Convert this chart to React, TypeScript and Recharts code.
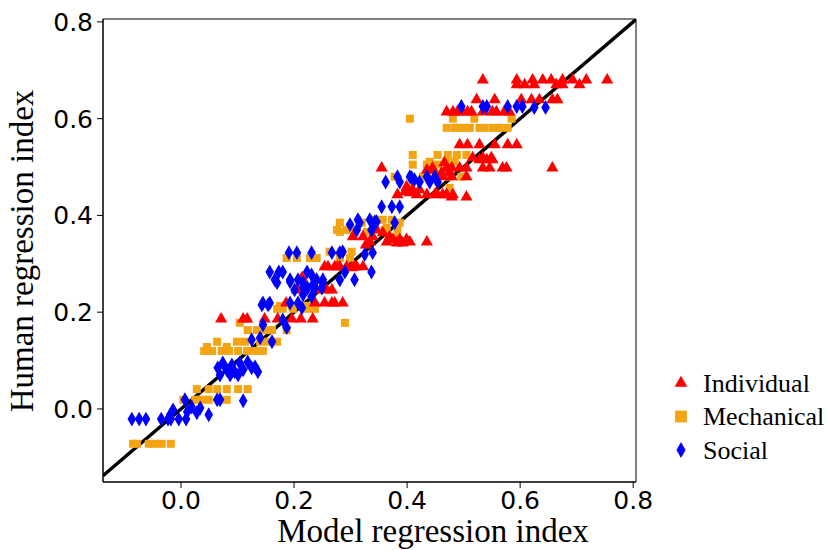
import React from 'react';
import {
  ScatterChart,
  Scatter,
  XAxis,
  YAxis,
  ZAxis,
  ReferenceArea,
  Legend,
  Symbols,
} from 'recharts';

type P = { x: number; y: number };

const xTicks = [0, 0.2, 0.4, 0.6, 0.8];
const yTicks = [0, 0.2, 0.4, 0.6, 0.8];
const xDomain: [number, number] = [-0.138, 0.805];
const yDomain: [number, number] = [-0.151, 0.806];
const identityLine: P[] = [
  { x: -0.138, y: -0.138 },
  { x: 0.805, y: 0.805 },
];
const xTitle = 'Model regression index';
const yTitle = 'Human regression index';
const seriesNames = ['Individual', 'Mechanical', 'Social'];
const seriesColors = ['#ff0000', '#f4a412', '#0000ff'];
const seriesShapes = ['triangle', 'square', 'diamond'] as const;

const individual: P[] = [
  { x: 0.534, y: 0.68 }, { x: 0.594, y: 0.68 }, { x: 0.622, y: 0.68 }, { x: 0.64, y: 0.68 }, { x: 0.655, y: 0.68 },
  { x: 0.675, y: 0.68 }, { x: 0.693, y: 0.68 }, { x: 0.717, y: 0.68 }, { x: 0.754, y: 0.68 },
  { x: 0.594, y: 0.67 }, { x: 0.608, y: 0.67 }, { x: 0.625, y: 0.67 }, { x: 0.664, y: 0.67 }, { x: 0.675, y: 0.67 }, { x: 0.705, y: 0.67 },
  { x: 0.523, y: 0.639 }, { x: 0.555, y: 0.639 }, { x: 0.602, y: 0.639 }, { x: 0.62, y: 0.639 }, { x: 0.634, y: 0.639 },
  { x: 0.657, y: 0.639 }, { x: 0.666, y: 0.639 },
  { x: 0.47, y: 0.614 }, { x: 0.481, y: 0.614 }, { x: 0.489, y: 0.614 }, { x: 0.498, y: 0.614 }, { x: 0.507, y: 0.614 },
  { x: 0.514, y: 0.614 }, { x: 0.534, y: 0.614 }, { x: 0.551, y: 0.614 }, { x: 0.558, y: 0.614 }, { x: 0.572, y: 0.614 }, { x: 0.581, y: 0.614 },
  { x: 0.493, y: 0.546 }, { x: 0.507, y: 0.546 }, { x: 0.528, y: 0.546 }, { x: 0.555, y: 0.546 }, { x: 0.578, y: 0.546 }, { x: 0.594, y: 0.546 },
  { x: 0.516, y: 0.519 }, { x: 0.534, y: 0.519 }, { x: 0.549, y: 0.519 }, { x: 0.528, y: 0.515 }, { x: 0.541, y: 0.515 }, { x: 0.551, y: 0.515 },
  { x: 0.355, y: 0.498 }, { x: 0.445, y: 0.498 }, { x: 0.47, y: 0.498 }, { x: 0.479, y: 0.498 }, { x: 0.493, y: 0.498 },
  { x: 0.505, y: 0.498 }, { x: 0.534, y: 0.498 }, { x: 0.546, y: 0.498 }, { x: 0.569, y: 0.498 }, { x: 0.576, y: 0.498 }, { x: 0.657, y: 0.498 },
  { x: 0.463, y: 0.48 }, { x: 0.479, y: 0.48 }, { x: 0.505, y: 0.48 }, { x: 0.435, y: 0.494 }, { x: 0.445, y: 0.494 },
  { x: 0.461, y: 0.488 }, { x: 0.475, y: 0.488 },
  { x: 0.383, y: 0.443 }, { x: 0.396, y: 0.449 }, { x: 0.399, y: 0.459 }, { x: 0.405, y: 0.447 }, { x: 0.41, y: 0.453 },
  { x: 0.417, y: 0.443 }, { x: 0.422, y: 0.453 }, { x: 0.435, y: 0.443 }, { x: 0.449, y: 0.443 }, { x: 0.452, y: 0.447 },
  { x: 0.463, y: 0.443 }, { x: 0.47, y: 0.443 }, { x: 0.479, y: 0.438 }, { x: 0.481, y: 0.443 }, { x: 0.505, y: 0.438 },
  { x: 0.304, y: 0.356 }, { x: 0.322, y: 0.356 }, { x: 0.334, y: 0.345 }, { x: 0.346, y: 0.37 }, { x: 0.357, y: 0.364 },
  { x: 0.364, y: 0.345 }, { x: 0.369, y: 0.356 }, { x: 0.375, y: 0.35 }, { x: 0.382, y: 0.343 }, { x: 0.387, y: 0.35 },
  { x: 0.392, y: 0.343 }, { x: 0.399, y: 0.35 }, { x: 0.405, y: 0.345 }, { x: 0.435, y: 0.345 }, { x: 0.339, y: 0.356 }, { x: 0.327, y: 0.339 },
  { x: 0.254, y: 0.294 }, { x: 0.26, y: 0.294 }, { x: 0.272, y: 0.294 }, { x: 0.277, y: 0.294 }, { x: 0.281, y: 0.294 },
  { x: 0.293, y: 0.294 }, { x: 0.302, y: 0.292 }, { x: 0.307, y: 0.294 }, { x: 0.311, y: 0.294 }, { x: 0.322, y: 0.294 },
  { x: 0.214, y: 0.271 },
  { x: 0.205, y: 0.246 }, { x: 0.24, y: 0.246 }, { x: 0.258, y: 0.246 }, { x: 0.267, y: 0.246 },
  { x: 0.186, y: 0.219 }, { x: 0.237, y: 0.219 }, { x: 0.254, y: 0.219 }, { x: 0.267, y: 0.219 }, { x: 0.272, y: 0.219 }, { x: 0.286, y: 0.219 },
  { x: 0.071, y: 0.186 }, { x: 0.11, y: 0.186 }, { x: 0.117, y: 0.186 }, { x: 0.148, y: 0.186 }, { x: 0.171, y: 0.186 },
  { x: 0.196, y: 0.186 }, { x: 0.212, y: 0.186 }, { x: 0.233, y: 0.186 },
  { x: 0.466, y: 0.509 },
];

const mechanical: P[] = [
  { x: -0.085, y: -0.072 }, { x: -0.078, y: -0.072 }, { x: -0.057, y: -0.072 }, { x: -0.046, y: -0.072 }, { x: -0.034, y: -0.072 }, { x: -0.018, y: -0.072 },
  { x: 0.004, y: 0.019 }, { x: 0.025, y: 0.019 }, { x: 0.037, y: 0.019 }, { x: 0.049, y: 0.019 }, { x: 0.067, y: 0.019 }, { x: 0.081, y: 0.019 },
  { x: 0.028, y: 0.041 }, { x: 0.049, y: 0.041 }, { x: 0.064, y: 0.041 }, { x: 0.081, y: 0.041 }, { x: 0.101, y: 0.041 }, { x: 0.118, y: 0.041 },
  { x: 0.041, y: 0.12 }, { x: 0.055, y: 0.12 }, { x: 0.072, y: 0.12 }, { x: 0.085, y: 0.12 }, { x: 0.101, y: 0.12 },
  { x: 0.117, y: 0.12 }, { x: 0.131, y: 0.12 }, { x: 0.145, y: 0.12 },
  { x: 0.046, y: 0.128 }, { x: 0.081, y: 0.128 },
  { x: 0.064, y: 0.139 }, { x: 0.099, y: 0.139 }, { x: 0.113, y: 0.139 }, { x: 0.14, y: 0.139 }, { x: 0.154, y: 0.139 }, { x: 0.17, y: 0.139 },
  { x: 0.118, y: 0.163 }, { x: 0.134, y: 0.163 }, { x: 0.148, y: 0.163 }, { x: 0.161, y: 0.163 }, { x: 0.187, y: 0.163 },
  { x: 0.104, y: 0.178 }, { x: 0.29, y: 0.178 },
  { x: 0.17, y: 0.207 }, { x: 0.18, y: 0.207 }, { x: 0.198, y: 0.207 }, { x: 0.223, y: 0.207 }, { x: 0.237, y: 0.207 },
  { x: 0.175, y: 0.213 }, { x: 0.196, y: 0.213 }, { x: 0.223, y: 0.213 }, { x: 0.233, y: 0.213 },
  { x: 0.187, y: 0.312 }, { x: 0.205, y: 0.312 }, { x: 0.228, y: 0.312 }, { x: 0.24, y: 0.312 }, { x: 0.281, y: 0.312 }, { x: 0.299, y: 0.312 },
  { x: 0.263, y: 0.325 }, { x: 0.284, y: 0.325 }, { x: 0.302, y: 0.325 },
  { x: 0.281, y: 0.366 }, { x: 0.307, y: 0.366 }, { x: 0.329, y: 0.366 },
  { x: 0.276, y: 0.37 }, { x: 0.293, y: 0.37 }, { x: 0.36, y: 0.37 }, { x: 0.383, y: 0.37 },
  { x: 0.299, y: 0.376 },
  { x: 0.281, y: 0.385 }, { x: 0.32, y: 0.385 }, { x: 0.387, y: 0.385 },
  { x: 0.343, y: 0.391 }, { x: 0.357, y: 0.391 }, { x: 0.373, y: 0.391 },
  { x: 0.364, y: 0.374 }, { x: 0.382, y: 0.354 },
  { x: 0.405, y: 0.457 }, { x: 0.475, y: 0.457 },
  { x: 0.378, y: 0.48 }, { x: 0.428, y: 0.48 }, { x: 0.435, y: 0.48 }, { x: 0.452, y: 0.48 }, { x: 0.475, y: 0.48 }, { x: 0.496, y: 0.48 },
  { x: 0.41, y: 0.505 }, { x: 0.435, y: 0.505 }, { x: 0.454, y: 0.505 },
  { x: 0.44, y: 0.511 }, { x: 0.47, y: 0.511 }, { x: 0.484, y: 0.511 },
  { x: 0.41, y: 0.525 }, { x: 0.454, y: 0.525 }, { x: 0.472, y: 0.525 }, { x: 0.488, y: 0.525 }, { x: 0.505, y: 0.525 },
  { x: 0.47, y: 0.581 }, { x: 0.484, y: 0.581 }, { x: 0.493, y: 0.581 }, { x: 0.502, y: 0.581 }, { x: 0.511, y: 0.581 },
  { x: 0.528, y: 0.581 }, { x: 0.537, y: 0.581 }, { x: 0.551, y: 0.581 }, { x: 0.564, y: 0.581 }, { x: 0.578, y: 0.581 },
  { x: 0.405, y: 0.6 }, { x: 0.481, y: 0.6 }, { x: 0.519, y: 0.6 }, { x: 0.585, y: 0.6 },
];

const social: P[] = [
  { x: -0.087, y: -0.021 }, { x: -0.074, y: -0.021 }, { x: -0.062, y: -0.021 }, { x: -0.035, y: -0.021 },
  { x: -0.023, y: -0.021 }, { x: -0.018, y: -0.021 }, { x: -0.004, y: -0.021 }, { x: 0.009, y: -0.021 },
  { x: -0.019, y: -0.012 }, { x: -0.014, y: -0.002 }, { x: 0.011, y: -0.006 }, { x: 0.019, y: 0.004 },
  { x: 0.028, y: -0.008 }, { x: 0.034, y: 0.002 }, { x: 0.049, y: -0.012 }, { x: 0.007, y: 0.019 },
  { x: 0.064, y: 0.019 }, { x: 0.069, y: 0.019 }, { x: 0.11, y: 0.017 },
  { x: 0.065, y: 0.085 }, { x: 0.074, y: 0.095 }, { x: 0.081, y: 0.081 }, { x: 0.09, y: 0.091 }, { x: 0.095, y: 0.077 },
  { x: 0.104, y: 0.095 }, { x: 0.11, y: 0.081 }, { x: 0.118, y: 0.097 }, { x: 0.125, y: 0.085 }, { x: 0.131, y: 0.087 },
  { x: 0.136, y: 0.077 }, { x: 0.069, y: 0.07 }, { x: 0.087, y: 0.07 }, { x: 0.101, y: 0.07 },
  { x: 0.125, y: 0.143 }, { x: 0.14, y: 0.147 }, { x: 0.161, y: 0.139 }, { x: 0.145, y: 0.174 }, { x: 0.18, y: 0.184 }, { x: 0.187, y: 0.168 },
  { x: 0.143, y: 0.215 }, { x: 0.154, y: 0.215 },
  { x: 0.17, y: 0.261 }, { x: 0.193, y: 0.263 }, { x: 0.216, y: 0.252 }, { x: 0.233, y: 0.256 }, { x: 0.251, y: 0.261 },
  { x: 0.145, y: 0.219 }, { x: 0.157, y: 0.219 }, { x: 0.193, y: 0.219 }, { x: 0.207, y: 0.219 }, { x: 0.214, y: 0.209 },
  { x: 0.201, y: 0.246 }, { x: 0.216, y: 0.236 }, { x: 0.231, y: 0.232 },
  { x: 0.157, y: 0.283 }, { x: 0.173, y: 0.283 }, { x: 0.18, y: 0.283 }, { x: 0.166, y: 0.267 }, { x: 0.193, y: 0.267 },
  { x: 0.223, y: 0.283 }, { x: 0.231, y: 0.277 }, { x: 0.207, y: 0.267 }, { x: 0.216, y: 0.261 }, { x: 0.24, y: 0.267 },
  { x: 0.251, y: 0.267 }, { x: 0.224, y: 0.25 }, { x: 0.237, y: 0.25 }, { x: 0.249, y: 0.25 }, { x: 0.281, y: 0.267 },
  { x: 0.29, y: 0.283 }, { x: 0.307, y: 0.267 }, { x: 0.337, y: 0.283 },
  { x: 0.191, y: 0.323 }, { x: 0.205, y: 0.323 }, { x: 0.231, y: 0.323 }, { x: 0.267, y: 0.323 }, { x: 0.281, y: 0.323 },
  { x: 0.286, y: 0.325 }, { x: 0.325, y: 0.319 }, { x: 0.339, y: 0.323 },
  { x: 0.313, y: 0.391 }, { x: 0.299, y: 0.381 }, { x: 0.337, y: 0.37 }, { x: 0.343, y: 0.387 }, { x: 0.334, y: 0.391 },
  { x: 0.316, y: 0.385 }, { x: 0.346, y: 0.387 }, { x: 0.378, y: 0.385 }, { x: 0.311, y: 0.37 },
  { x: 0.355, y: 0.418 }, { x: 0.373, y: 0.418 }, { x: 0.387, y: 0.418 },
  { x: 0.362, y: 0.469 }, { x: 0.383, y: 0.48 }, { x: 0.387, y: 0.469 }, { x: 0.405, y: 0.48 }, { x: 0.408, y: 0.478 },
  { x: 0.413, y: 0.474 }, { x: 0.422, y: 0.469 }, { x: 0.435, y: 0.48 }, { x: 0.44, y: 0.469 }, { x: 0.449, y: 0.48 }, { x: 0.454, y: 0.469 },
  { x: 0.496, y: 0.625 }, { x: 0.534, y: 0.625 }, { x: 0.541, y: 0.625 }, { x: 0.578, y: 0.625 }, { x: 0.594, y: 0.625 },
  { x: 0.604, y: 0.625 }, { x: 0.625, y: 0.623 }, { x: 0.645, y: 0.623 },
];

const tickFont = { fontFamily: 'DejaVu Sans', fontSize: 25, fill: '#000' };
const titleFont = 'Liberation Serif';

const XTitle = () => (
  <text x={433} y={542} textAnchor="middle" fontFamily={titleFont} fontSize={33} fill="#000">
    {xTitle}
  </text>
);

const YTitle = () => (
  <text
    x={33}
    y={251}
    transform="rotate(-90 33 251)"
    textAnchor="middle"
    fontFamily={titleFont}
    fontSize={33}
    fill="#000"
  >
    {yTitle}
  </text>
);

const legendSizes = [70, 140, 72];

const renderLegend = () => (
  <svg width={170} height={110} style={{ display: 'block' }}>
    {seriesNames.map((name, i) => (
      <g key={name}>
        <Symbols cx={11} cy={18 + i * 33.5} type={seriesShapes[i]} size={legendSizes[i]} fill={seriesColors[i]} />
        <text x={33} y={18 + i * 33.5 + 8.5} fontFamily={titleFont} fontSize={26} fill="#000">
          {name}
        </text>
      </g>
    ))}
  </svg>
);

const NoPoint = () => null;

export default function App() {
  return (
    <div style={{ position: 'absolute', left: 0, top: 0, width: 827, height: 550, background: '#fff' }}>
      <ScatterChart width={827} height={550} margin={{ top: 19, right: 191, bottom: 0, left: 0 }}>
        <XAxis
          type="number"
          dataKey="x"
          domain={xDomain}
          ticks={xTicks}
          allowDataOverflow
          tickFormatter={(v: number) => v.toFixed(1)}
          tick={tickFont}
          tickSize={6}
          tickMargin={3}
          height={68}
          stroke="#000"
          axisLine={{ stroke: '#000' }}
          tickLine={{ stroke: '#000' }}
          label={<XTitle />}
        />
        <YAxis
          type="number"
          dataKey="y"
          domain={yDomain}
          ticks={yTicks}
          allowDataOverflow
          tickFormatter={(v: number) => v.toFixed(1)}
          tick={tickFont}
          tickSize={6}
          tickMargin={4}
          width={103}
          stroke="#000"
          axisLine={{ stroke: '#000' }}
          tickLine={{ stroke: '#000' }}
          label={<YTitle />}
        />
        <ZAxis zAxisId="tri" range={[40, 40]} />
        <ZAxis zAxisId="sq" range={[68, 68]} />
        <ZAxis zAxisId="dia" range={[38, 38]} />
        <ReferenceArea
          x1={xDomain[0]}
          x2={xDomain[1]}
          y1={yDomain[0]}
          y2={yDomain[1]}
          fill="none"
          fillOpacity={0}
          stroke="#000"
          strokeWidth={1}
        />
        <Scatter
          name="identity"
          data={identityLine}
          line={{ stroke: '#000', strokeWidth: 3.5 }}
          shape={<NoPoint />}
          legendType="none"
          isAnimationActive={false}
        />
        <Scatter
          name={seriesNames[1]}
          data={mechanical}
          zAxisId="sq"
          shape="square"
          fill={seriesColors[1]}
          isAnimationActive={false}
        />
        <Scatter
          name={seriesNames[0]}
          data={individual}
          zAxisId="tri"
          shape="triangle"
          fill={seriesColors[0]}
          isAnimationActive={false}
        />
        <Scatter
          name={seriesNames[2]}
          data={social}
          zAxisId="dia"
          shape="diamond"
          fill={seriesColors[2]}
          isAnimationActive={false}
        />
        <Legend
          layout="vertical"
          align="center"
          verticalAlign="middle"
          wrapperStyle={{ left: 670, top: 365, width: 170, height: 110 }}
          content={renderLegend}
        />
      </ScatterChart>
    </div>
  );
}
